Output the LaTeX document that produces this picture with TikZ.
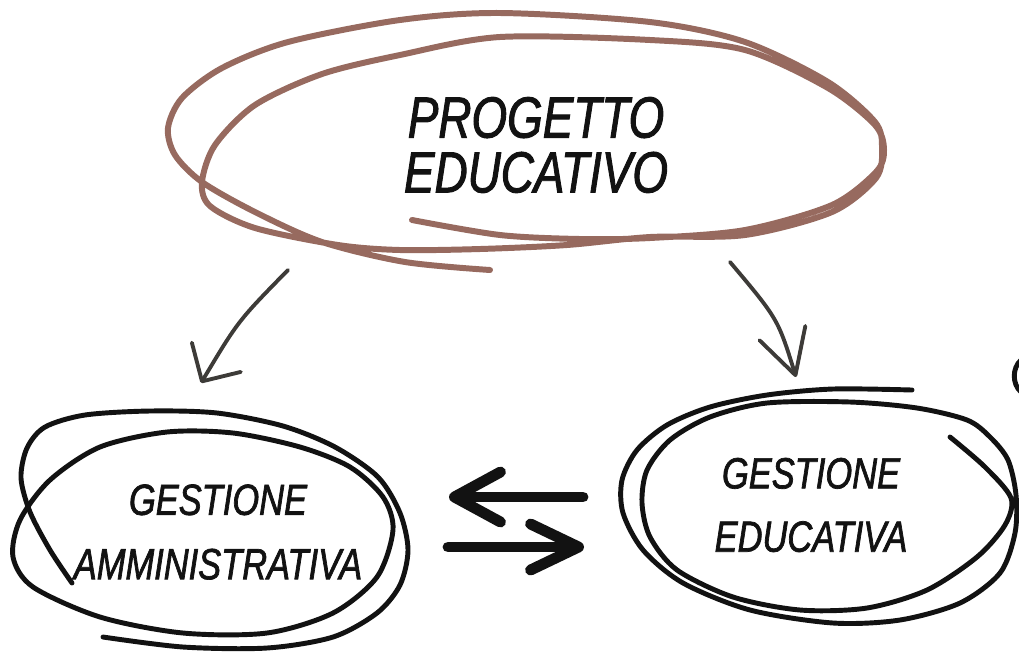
\documentclass[tikz,border=0pt]{standalone}
\usepackage{fontspec}
\newfontfamily\handfont{Liberation Sans}[FakeStretch=0.79, FakeBold=1.6]
\usetikzlibrary{arrows.meta}

\definecolor{rust}{RGB}{151,106,95}
\definecolor{pencil}{RGB}{61,59,56}
\definecolor{ink}{RGB}{18,18,18}

\tikzset{
  handtext/.style={align=center, inner sep=0pt, text=ink},
  brownloop/.style={draw=rust, line width=1.7pt, line cap=round, line join=round},
  inkloop/.style={draw=ink, line width=1.4pt, line cap=round, line join=round},
  thinarrow/.style={draw=pencil, line width=1.1pt, line cap=round, line join=round},
  bigarrow/.style={draw=ink, line width=3.1pt, line cap=round, line join=round}
}

\begin{document}
\begin{tikzpicture}[x=0.01cm, y=-0.01cm]

      \useasboundingbox (0,0) rectangle (1019,651);

      % texts
      \node[handtext, font={\handfont\itshape\fontsize{16.5}{15.6}\selectfont}]
        (progetto) at (536,145) {PROGETTO\\EDUCATIVO};
      \node[handtext, font={\handfont\itshape\fontsize{12.4}{18.3}\selectfont}]
        (admin) at (218,532) {GESTIONE\\AMMINISTRATIVA};
      \node[handtext, font={\handfont\itshape\fontsize{12.4}{18}\selectfont}]
        (edu) at (811,505) {GESTIONE\\EDUCATIVA};

      % scribbled ellipses
      \draw[brownloop] plot[smooth] coordinates {
        (412,220) (500,235) (580,239) (650,238) (745,230) (832,205) (876,172)
        (884,150) (875,125) (828,88) (745,50) (650,40) (500,37) (400,55)
        (322,74) (255,105) (215,145) (202,182) (210,206) (255,228) (338,245)
        (400,250) (480,249) (567,245) (650,237) (745,235) (832,212) (876,178)
        (882,148) (875,122) (828,82) (745,42) (650,22) (500,13) (400,20)
        (288,42) (222,68) (182,98) (168,128) (175,155) (202,182) (255,212)
        (322,242) (405,262) (490,270)};

      \draw[inkloop] plot[smooth] coordinates {
        (72,583) (50,550) (30,512) (21,478) (27,448) (45,427) (85,415)
        (150,411) (217,413) (283,426) (335,447) (378,477) (400,513) (408,550)
        (400,585) (377,613) (333,637) (267,648) (183,647) (103,637)};
      \draw[inkloop] plot[smooth cycle] coordinates {
        (167,432) (233,433) (300,447) (350,467) (383,497) (393,530) (377,577)
        (333,613) (267,633) (183,633) (100,617) (33,587) (13,557) (20,520)
        (50,480) (100,447)};

      \draw[inkloop] plot[smooth] coordinates {
        (912,390) (833,389) (767,395) (710,407) (667,425) (637,450) (622,480)
        (623,513) (643,550) (683,583) (750,610) (833,623) (900,620) (960,603)
        (1000,573) (1015,533) (1016,495) (1008,460) (990,437) (967,420)
        (917,408) (850,402) (767,403) (710,417) (670,440) (647,470) (642,503)
        (650,537) (677,570) (733,597) (800,610) (867,608) (927,590) (977,557)
        (1005,525) (1011,498) (985,467) (950,437)};
      \draw[inkloop] (1021,360) .. controls (1012,368) and (1012,384) .. (1021,392);

      % connectors
      \coordinate (pl-start) at (288,270);
      \coordinate (pl-end)   at (201,383);
      \coordinate (pr-start) at (730,262);
      \coordinate (pr-end)   at (796,377);
      \coordinate (back-start) at (583,497);
      \coordinate (back-end)   at (449,497);
      \coordinate (fwd-start)  at (448,547);
      \coordinate (fwd-end)    at (584,547);

      \draw[thinarrow, -{Straight Barb[round, length=2.8mm, width=5.7mm]}]
        (pl-start) .. controls (238,321) .. (pl-end);
      \draw[thinarrow, -{Straight Barb[round, length=4.4mm, width=4.8mm]}]
        (pr-start) .. controls (778,319) .. (pr-end);

      \draw[bigarrow, -{Straight Barb[round, length=4.6mm, width=5mm]}]
        (back-start) -- (back-end);
      \draw[bigarrow, -{Straight Barb[round, length=4.8mm, width=4.6mm]}]
        (fwd-start) -- (fwd-end);

    \end{tikzpicture}
\end{document}
